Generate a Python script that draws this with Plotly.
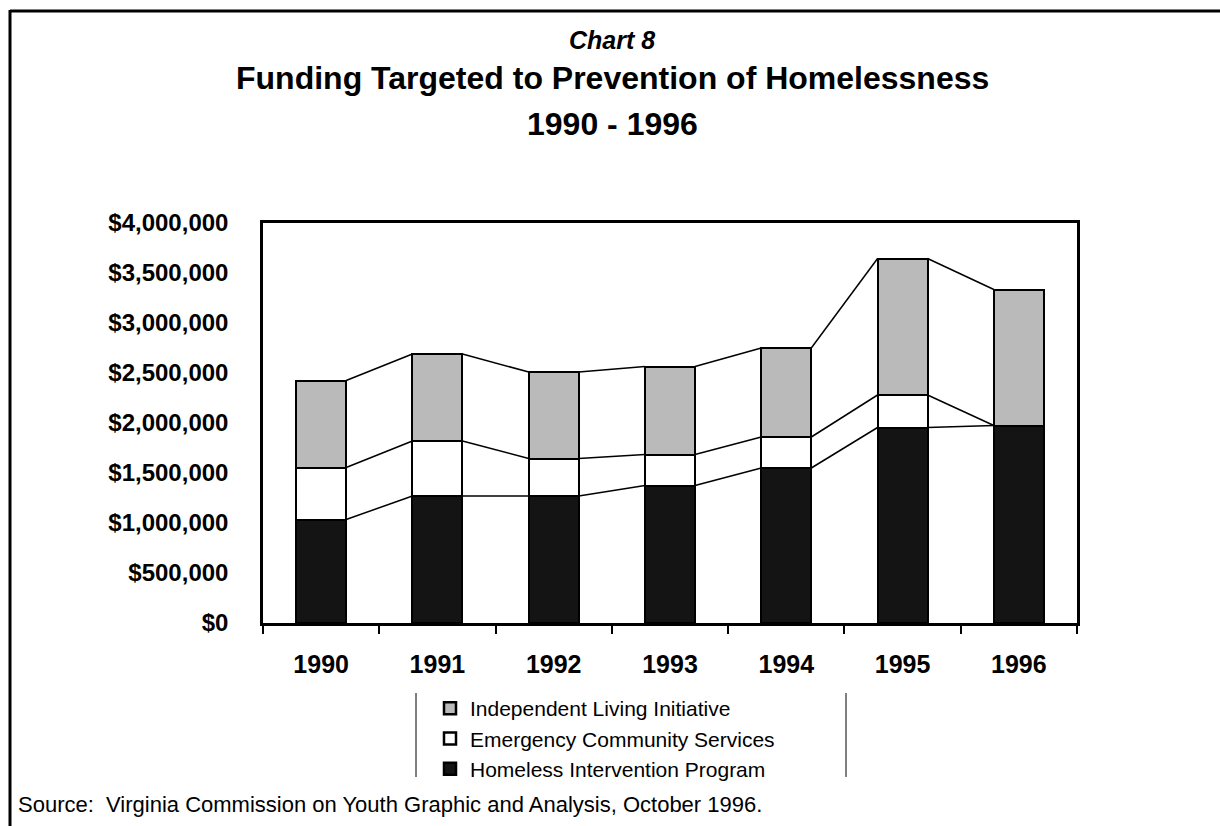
import numpy as np
import plotly.graph_objects as go

years = ["1990", "1991", "1992", "1993", "1994", "1995", "1996"]
homeless_intervention = [1035000, 1270000, 1270000, 1375000, 1550000, 1955000, 1975000]
emergency_community = [520000, 550000, 375000, 310000, 310000, 325000, 0]
independent_living = [870000, 870000, 865000, 880000, 890000, 1365000, 1360000]
y_ticks = [0, 500000, 1000000, 1500000, 2000000, 2500000, 3000000, 3500000, 4000000]

FONT = "Liberation Sans, Arial, Helvetica, sans-serif"
BAR_W = 0.43
xpos = np.arange(len(years))

fig = go.Figure()
series = [
    ("Homeless Intervention Program", homeless_intervention, "#141414"),
    ("Emergency Community Services", emergency_community, "#ffffff"),
    ("Independent Living Initiative", independent_living, "#bababa"),
]
for name, vals, color in series:
    fig.add_trace(go.Bar(
        x=xpos, y=vals, name=name, width=BAR_W,
        marker=dict(color=color, line=dict(color="black", width=2.5)),
    ))

# series lines connecting the tops of each stacked segment
cum = np.zeros(len(years))
for name, vals, color in series:
    cum = cum + np.array(vals, dtype=float)
    lx, ly = [], []
    for i in range(len(years) - 1):
        lx += [xpos[i] + BAR_W / 2, xpos[i + 1] - BAR_W / 2, None]
        ly += [cum[i], cum[i + 1], None]
    fig.add_trace(go.Scatter(x=lx, y=ly, mode="lines", line=dict(color="black", width=1.5),
                             showlegend=False, hoverinfo="skip"))

def px_x(p):
    return (p - 263) / 814.0

def px_y(p):
    return (623 - p) / 400.0

annotations = [
    dict(text="<b><i>Chart 8</i></b>", x=px_x(612), y=px_y(40), font=dict(size=25)),
    dict(text="<b>Funding Targeted to Prevention of Homelessness</b>", x=px_x(612), y=px_y(78), font=dict(size=32)),
    dict(text="<b>1990 - 1996</b>", x=px_x(612), y=px_y(124), font=dict(size=32)),
    dict(text="Source:  Virginia Commission on Youth Graphic and Analysis, October 1996.",
         x=px_x(16), xanchor="left", y=px_y(804), font=dict(size=22)),
]
for a in annotations:
    a.setdefault("xanchor", "center")
    a.update(xref="paper", yref="paper", yanchor="middle", showarrow=False)
    a["font"].update(family=FONT, color="black")

shapes = [
    # outer frame
    dict(type="line", xref="paper", yref="paper", x0=px_x(10), x1=px_x(10), y0=px_y(10), y1=px_y(830),
         line=dict(color="black", width=3)),
    dict(type="line", xref="paper", yref="paper", x0=px_x(10), x1=px_x(1225), y0=px_y(11), y1=px_y(11),
         line=dict(color="black", width=3)),
    # legend side rules
    dict(type="line", xref="paper", yref="paper", x0=px_x(416), x1=px_x(416), y0=px_y(693), y1=px_y(777),
         line=dict(color="black", width=1)),
    dict(type="line", xref="paper", yref="paper", x0=px_x(846), x1=px_x(846), y0=px_y(693), y1=px_y(777),
         line=dict(color="black", width=1)),
]

fig.update_layout(
    width=1220, height=826,
    margin=dict(l=263, r=143, t=223, b=203, autoexpand=False),
    paper_bgcolor="white", plot_bgcolor="white",
    barmode="stack", bargap=0,
    font=dict(family=FONT, color="black"),
    showlegend=True,
    legend=dict(x=px_x(430), xanchor="left", y=px_y(688), yanchor="top",
                traceorder="reversed", font=dict(size=21, family=FONT, color="black"),
                bgcolor="rgba(0,0,0,0)", itemclick=False, tracegroupgap=0),
    annotations=annotations,
    shapes=shapes,
)
fig.update_xaxes(
    range=[-0.5, 6.5], tickmode="array", tickvals=list(xpos), ticktext=[f"<b>{y}</b>" for y in years],
    ticks="", ticklabelstandoff=17, tickfont=dict(size=25, family=FONT, color="black"),
    showgrid=False, zeroline=False, showline=True, linecolor="black", linewidth=2.5, mirror=True,
    minor=dict(tickmode="array", tickvals=[i - 0.5 for i in range(len(years) + 1)],
               ticks="outside", ticklen=8, tickcolor="black", tickwidth=1.5, showgrid=False),
)
fig.update_yaxes(
    range=[0, 4000000], tickmode="array", tickvals=y_ticks,
    ticktext=[f"<b>${v:,.0f}</b>" for v in y_ticks],
    ticks="", ticklabelstandoff=27, tickfont=dict(size=24, family=FONT, color="black"),
    showgrid=False, zeroline=False, showline=True, linecolor="black", linewidth=2.5, mirror=True,
)

fig.write_html("out.html")
